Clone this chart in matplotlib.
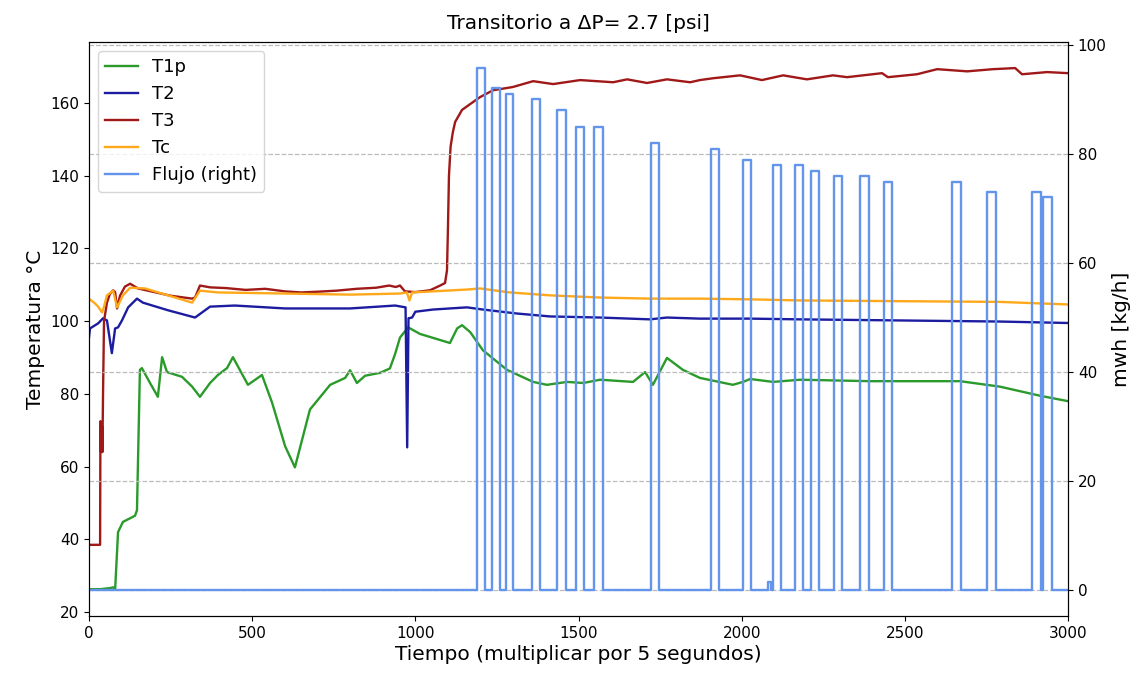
import matplotlib
matplotlib.use("Agg")
import matplotlib.pyplot as plt

# ---- data ----
t3_x = [0, 34, 35, 37, 38, 39, 40, 41, 43, 46, 55, 64, 74, 80, 86, 95, 110, 126, 150, 200, 250, 316, 325,
        340, 371, 420, 480, 540, 600, 650, 700, 760, 820, 880, 920, 940, 953, 968, 1000, 1045, 1076, 1091,
        1097, 1100, 1103, 1108, 1115, 1122, 1143, 1168, 1198, 1238, 1299, 1361, 1422, 1505, 1606, 1649, 1710,
        1771, 1842, 1872, 1912, 1995, 2062, 2127, 2200, 2280, 2323, 2430, 2448, 2537, 2599, 2691, 2770, 2838,
        2859, 2936, 3000]
t3_y = [38.5, 38.5, 72.5, 64, 72, 65, 71, 64, 80, 100, 105.1, 107.5, 108.5, 108, 103.5, 107, 109.5, 110.3,
        109, 108, 107, 106.2, 106.5, 109.8, 109.3, 109.1, 108.6, 108.9, 108.2, 107.9, 108.1, 108.4, 108.9,
        109.2, 109.8, 109.4, 109.8, 108.2, 108, 108.5, 109.8, 110.5, 114, 126, 140, 148, 152, 154.8, 158.1,
        159.7, 161.6, 163.5, 164.4, 166.0, 165.2, 166.3, 165.7, 166.5, 165.5, 166.5, 165.7, 166.3, 166.8,
        167.6, 166.3, 167.6, 166.5, 167.6, 167.1, 168.2, 167.1, 167.9, 169.3, 168.7, 169.3, 169.6, 167.9,
        168.5, 168.2]

tc_x = [0, 18, 28, 40, 46, 55, 74, 86, 104, 126, 172, 242, 316, 340, 395, 601, 800, 953, 974, 982, 990,
        1054, 1158, 1198, 1290, 1413, 1566, 1719, 1872, 2026, 2179, 2485, 2791, 3000]
tc_y = [106.2, 104.9, 104, 102.4, 104, 107.1, 108.4, 103.8, 107.1, 109.2, 109.0, 107.1, 105.1, 108.4, 107.9,
        107.6, 107.3, 107.6, 107.9, 105.7, 107.9, 108.2, 108.7, 109, 107.9, 107.1, 106.5, 106.2, 106.2, 106.0,
        105.7, 105.5, 105.3, 104.6]

t2_x = [0, 3, 28, 43, 55, 64, 70, 80, 89, 101, 120, 147, 165, 242, 325, 371, 447, 601, 800, 938, 970, 975,
        979, 990, 1000, 1054, 1158, 1207, 1312, 1413, 1566, 1719, 1771, 1872, 2026, 2179, 2485, 2791, 3000]
t2_y = [95.6, 98, 99.4, 100.8, 100.2, 94.8, 91.2, 98, 98.3, 100.2, 103.8, 106.2, 105.1, 103, 101, 104, 104.3,
        103.5, 103.5, 104.3, 103.8, 65.3, 100.8, 101, 102.6, 103.2, 103.8, 103.2, 102.1, 101.3, 101, 100.5, 101,
        100.7, 100.7, 100.5, 100.2, 99.9, 99.5]

t1p_x = [0, 34, 64, 74, 80, 89, 104, 141, 147, 156, 162, 187, 211, 224, 239, 285, 316, 340, 371, 395, 423,
         441, 487, 530, 561, 601, 631, 677, 739, 785, 800, 821, 846, 892, 922, 938, 953, 978, 1014, 1106, 1128,
         1143, 1168, 1207, 1281, 1361, 1403, 1465, 1514, 1566, 1667, 1704, 1728, 1771, 1820, 1872, 1973, 2004,
         2026, 2096, 2179, 2393, 2669, 2791, 2914, 3000]
t1p_y = [26.3, 26.3, 26.6, 26.8, 26.1, 42, 44.8, 46.5, 48, 86.6, 87.1, 83, 79.2, 90.1, 86, 84.7, 82, 79.2, 83,
         85.2, 87.1, 90.1, 82.5, 85.2, 77.6, 65.6, 59.8, 75.7, 82.5, 84.4, 86.5, 83, 85, 85.8, 87, 91, 95.5,
         98.3, 96.5, 94, 98, 98.9, 97, 92, 86.6, 83.3, 82.5, 83.3, 83, 83.9, 83.3, 86, 82.5, 89.9, 86.6, 84.4,
         82.5, 83.3, 84.1, 83.3, 83.9, 83.5, 83.5, 82, 79.5, 78]

# flow pulses (start, end, height)
pulse_start = [1189, 1235, 1278, 1358, 1434, 1492, 1548, 1722, 1906, 2004, 2080, 2096, 2164, 2213, 2283,
               2363, 2436, 2645, 2752, 2890, 2923]
pulse_end = [1213, 1259, 1299, 1382, 1462, 1517, 1575, 1747, 1931, 2029, 2090, 2121, 2188, 2237, 2308,
             2390, 2461, 2672, 2779, 2917, 2951]
pulse_height = [95.8, 92.1, 91.0, 90.1, 88.1, 85.0, 85.0, 82.0, 80.9, 78.9, 1.5, 78.0, 78.0, 76.9, 76.0,
                76.0, 74.9, 74.9, 73.0, 73.0, 72.1]
x_end = 3000

flujo_x = [0]
flujo_y = [0]
for s, e, h in zip(pulse_start, pulse_end, pulse_height):
    flujo_x += [s, e]
    flujo_y += [h, 0]
flujo_x.append(x_end)
flujo_y.append(0)

# ---- figure ----
fig = plt.figure(figsize=(11.44, 6.75), dpi=100)
ax = fig.add_axes([0.0778, 0.0874, 0.8558, 0.8504])
lw = 1.7
l1, = ax.plot(t1p_x, t1p_y, color="#2a9a2a", lw=lw, label="T1p")
l2, = ax.plot(t2_x, t2_y, color="#1c1ca0", lw=lw, label="T2")
l3, = ax.plot(t3_x, t3_y, color="#a01818", lw=lw, label="T3")
l4, = ax.plot(tc_x, tc_y, color="#ffa91a", lw=lw, label="Tc")
ax.set_xlim(0, x_end)
ax.set_yticks([20, 40, 60, 80, 100, 120, 140, 160])
ax.set_ylabel("Temperatura °C", fontsize=14.5)
ax.set_xlabel("Tiempo (multiplicar por 5 segundos)", fontsize=14.5, labelpad=3)
ax.set_title("Transitorio a ΔP= 2.7 [psi]", fontsize=14.5, pad=9)
ax.tick_params(labelsize=11)

ax2 = ax.twinx()
l5, = ax2.plot(flujo_x, flujo_y, color="#6495ed", lw=lw, drawstyle="steps-post", label="Flujo (right)")
ax2.set_yticks([0, 20, 40, 60, 80, 100])
ax2.set_ylabel("mwh [kg/h]", fontsize=14.5)
ax2.tick_params(labelsize=11)
ax2.grid(True, linestyle="--", color="#bbbbbb", lw=0.9)
ax2.set_xlim(0, x_end)

ax2.legend(handles=[l1, l2, l3, l4, l5], loc="upper left", fontsize=13, framealpha=0.8,
           handlelength=1.8, borderaxespad=0.5)

fig.savefig("out.png", dpi=100)
